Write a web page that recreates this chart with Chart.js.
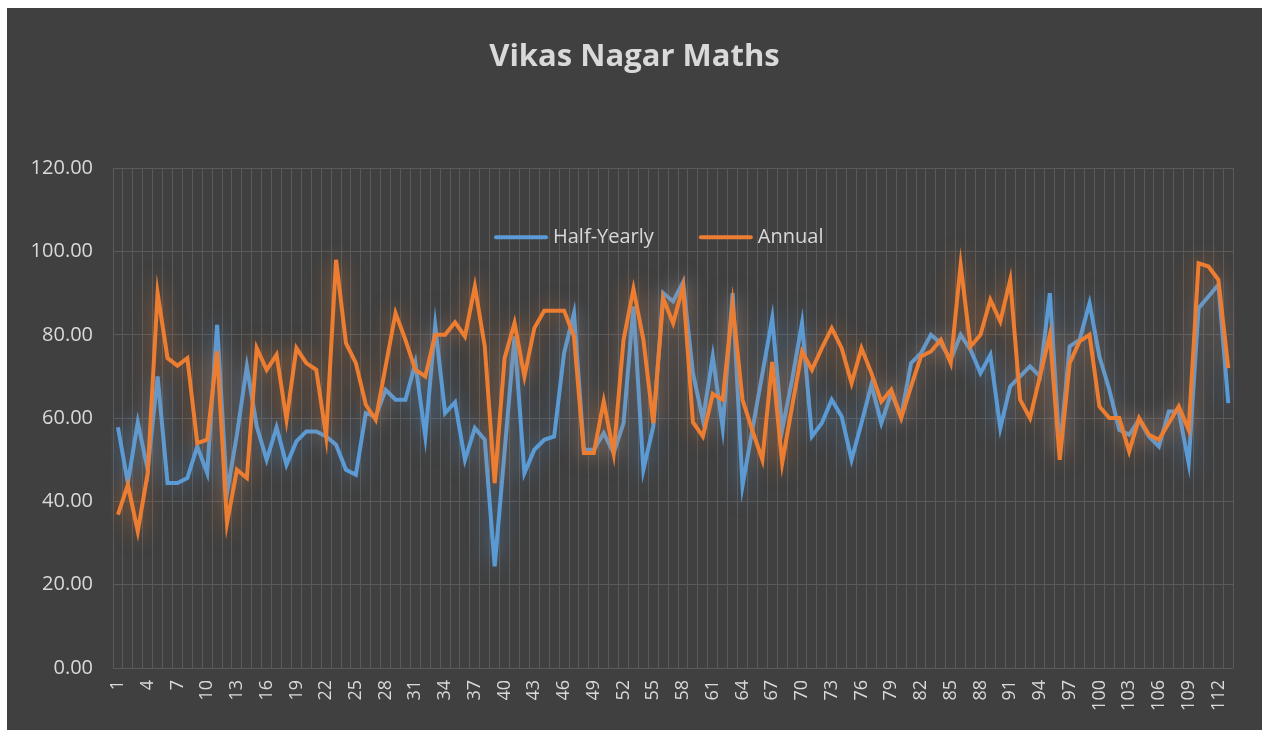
<!DOCTYPE html>
<html>
<head>
<meta charset="utf-8">
<title>Vikas Nagar Maths</title>
<script src="https://cdn.jsdelivr.net/npm/chart.js@4/dist/chart.umd.min.js"></script>
<style>
  body { margin: 0; background: #ffffff; }
  .chart-box {
    position: absolute;
    left: 7px;
    top: 8px;
    width: 1255px;
    height: 722px;
    background: #404040;
  }
</style>
</head>
<body>
<div class="chart-box"><canvas id="chart"></canvas></div>
<script>
let students = [];
for (let i = 1; i <= 113; i++) {
  students.push(String(i));
}

let halfYearly = [
  57.8, 44.4, 59, 47.6, 70, 44.4, 44.4, 45.6, 53.2, 46.8,
  82.4, 42, 56, 72.4, 58, 50, 57.8, 48.8, 54.4, 56.8,
  56.8, 55.6, 53.6, 47.6, 46.4, 61.2, 60.4, 66.8, 64.4, 64.4,
  73.2, 55.6, 82.2, 61.2, 63.8, 50, 57.6, 54.8, 24.4, 52,
  79.6, 46.8, 52.4, 54.8, 55.6, 75.6, 85.2, 52.4, 52.4, 56.4,
  51.6, 58.8, 86.8, 47.6, 58, 90, 88, 92.6, 70.8, 59.6,
  74.8, 57.6, 90, 43.8, 57.3, 70.6, 84, 57.2, 69.2, 82.8,
  55.6, 58.8, 64.4, 60.4, 50, 58.8, 68, 58.8, 66, 60.4,
  73.2, 75.6, 80, 78, 74, 80, 76.4, 70.8, 75.2, 57.6,
  67.6, 70, 72.4, 70, 90, 52, 77.2, 78.8, 87.6, 74.8,
  66.8, 57.2, 56, 59.6, 55.6, 53.2, 61.6, 61.6, 49.2, 86.4,
  89.2, 92, 63.6
];

let annual = [
  36.8, 44, 32.8, 46.8, 90, 74.4, 72.6, 74.4, 54, 54.8,
  76, 34.8, 47.6, 45.6, 76.8, 71.6, 75.2, 59.6, 76.8, 73.2,
  71.6, 55.6, 98, 78, 73.2, 63.2, 59.6, 72.4, 85.2, 78.8,
  71.6, 70, 80, 80, 83, 79.6, 91.6, 77.2, 44.4, 74.4,
  82.8, 70, 81.6, 85.8, 85.8, 85.8, 79.6, 51.6, 51.6, 64,
  51.6, 78.8, 91, 78.8, 58.8, 88.8, 82.8, 91.6, 59, 55.6,
  65.8, 64.4, 87.2, 64.4, 57, 50, 73.5, 49.2, 62.8, 76,
  71.6, 76.8, 81.6, 76.8, 68.4, 76.8, 70.8, 64, 66.8, 60,
  67.6, 74.8, 76, 78.8, 73.2, 96.8, 77.2, 80, 88.4, 83.2,
  93.2, 64.4, 60, 70, 80, 50, 73.2, 78.4, 80, 62.8,
  60, 60, 52, 60, 56, 54.8, 58.8, 62.8, 57.2, 97.2,
  96.4, 93.2, 72
];

let yTicks = [0, 20, 40, 60, 80, 100, 120];

let blue = "#5b9bd5";
let orange = "#ed7d31";
let textColor = "#d9d9d9";
let gridColor = "#5a5a5a";
let fontName = "'Open Sans', sans-serif";

let glowPlugin = {
  id: "glow",
  beforeDatasetDraw(chart, args) {
    let ctx = chart.ctx;
    ctx.save();
    ctx.shadowColor = args.meta.dataset.options.borderColor === blue
      ? "rgba(91, 155, 213, 0.6)"
      : "rgba(237, 125, 49, 0.6)";
    ctx.shadowBlur = 20;
  },
  afterDatasetDraw(chart) {
    chart.ctx.restore();
  }
};

let legendPlugin = {
  id: "innerLegend",
  afterDraw(chart) {
    let ctx = chart.ctx;
    let area = chart.chartArea;
    let y = area.top + 69;
    let x = area.left + 381;
    ctx.save();
    ctx.font = "20px " + fontName;
    ctx.textBaseline = "middle";
    chart.data.datasets.forEach(ds => {
      ctx.strokeStyle = ds.borderColor;
      ctx.lineWidth = 4;
      ctx.lineCap = "round";
      ctx.beginPath();
      ctx.moveTo(x + 2, y);
      ctx.lineTo(x + 52, y);
      ctx.stroke();
      ctx.fillStyle = textColor;
      ctx.fillText(ds.label, x + 59, y);
      x += 59 + ctx.measureText(ds.label).width + 45;
    });
    ctx.restore();
  }
};

let chart = new Chart(document.getElementById("chart"), {
  type: "line",
  data: {
    labels: students,
    datasets: [
      {
        label: "Half-Yearly",
        data: halfYearly,
        borderColor: blue,
        backgroundColor: blue,
        borderWidth: 4,
        pointRadius: 0,
        tension: 0,
        order: 2
      },
      {
        label: "Annual",
        data: annual,
        borderColor: orange,
        backgroundColor: orange,
        borderWidth: 4,
        pointRadius: 0,
        tension: 0,
        order: 1
      }
    ]
  },
  options: {
    responsive: true,
    maintainAspectRatio: false,
    animation: false,
    layout: { padding: { left: 23, right: 23, top: 0, bottom: 0 } },
    plugins: {
      legend: { display: false },
      tooltip: { enabled: false },
      title: {
        display: true,
        text: "Vikas Nagar Maths",
        color: textColor,
        font: { family: fontName, size: 31, weight: "bold" },
        padding: { top: 31, bottom: 92 }
      }
    },
    scales: {
      x: {
        offset: true,
        grid: { color: gridColor, offset: true, drawTicks: false },
        border: { display: false },
        ticks: {
          autoSkip: false,
          maxRotation: 90,
          minRotation: 90,
          padding: 12,
          color: textColor,
          font: { family: fontName, size: 18 },
          callback: function (value, index) {
            return index % 3 === 0 ? this.getLabelForValue(value) : "";
          }
        },
        afterFit: scale => { scale.height = 62; }
      },
      y: {
        min: yTicks[0],
        max: yTicks[yTicks.length - 1],
        grid: { color: gridColor, drawTicks: false },
        border: { display: false },
        afterBuildTicks: scale => {
          scale.ticks = yTicks.map(v => ({ value: v }));
        },
        ticks: {
          padding: 20,
          color: textColor,
          font: { family: fontName, size: 20 },
          callback: value => value.toFixed(2)
        },
        afterFit: scale => { scale.width = 83; }
      }
    }
  },
  plugins: [glowPlugin, legendPlugin]
});
</script>
</body>
</html>
